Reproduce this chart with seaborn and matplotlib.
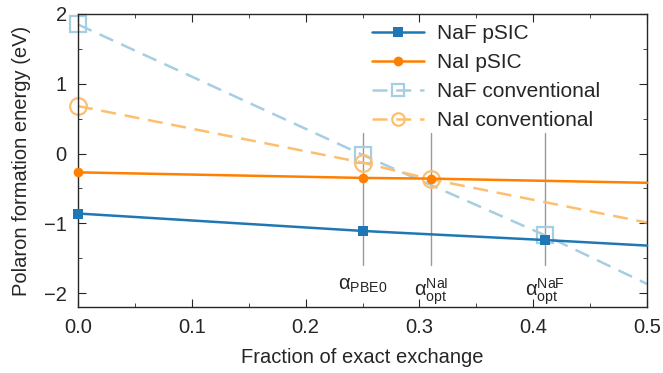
import numpy as np
import pandas as pd
import matplotlib
matplotlib.use("Agg")
import matplotlib.pyplot as plt
from matplotlib.ticker import MultipleLocator, FormatStrFormatter
import seaborn as sns

# fraction of exact exchange
alpha_naf = [0.0, 0.25, 0.41, 0.5]
alpha_nai = [0.0, 0.25, 0.31, 0.5]

naf_psic = [-0.86, -1.11, -1.24, -1.32]
nai_psic = [-0.27, -0.35, -0.36, -0.42]
naf_conv = [1.85, -0.02, -1.17, -1.87]
nai_conv = [0.68, -0.13, -0.37, -0.99]

special_alpha = [0.25, 0.31, 0.41]
special_labels = [r"$\mathrm{α}_{\mathrm{PBE0}}$", r"$\mathrm{α}_{\mathrm{opt}}^{\mathrm{NaI}}$",
                  r"$\mathrm{α}_{\mathrm{opt}}^{\mathrm{NaF}}$"]

sns.set_style("ticks")
plt.rcParams["font.family"] = ["Liberation Sans", "DejaVu Sans"]
plt.rcParams["mathtext.fontset"] = "custom"
plt.rcParams["mathtext.rm"] = "Liberation Sans"
plt.rcParams["mathtext.it"] = "Liberation Sans"

pal = sns.color_palette("Paired")
c_naf_light, c_naf, c_nai_light, c_nai = pal[0], pal[1], pal[6], pal[7]

fig = plt.figure(figsize=(6.63, 3.73), dpi=100)
ax = fig.add_axes([0.1176, 0.177, 0.976 - 0.1176, 0.9625 - 0.177])

# guide lines
for a in special_alpha:
    ax.plot([a, a], [0.3, -1.6], color="0.6", lw=1.0, zorder=1)
for a, lab in zip(special_alpha, special_labels):
    ax.text(a, -1.76, lab, ha="center", va="top", fontsize=14.5)

sns.lineplot(x=alpha_naf, y=naf_conv, ax=ax, color=c_naf_light, lw=1.8,
             linestyle=(0, (6, 3.5)), marker="s", markevery=[0, 1, 2], markersize=12,
             markerfacecolor="none", markeredgecolor=c_naf_light, markeredgewidth=1.6,
             label="NaF conventional", zorder=2, clip_on=False)
sns.lineplot(x=alpha_nai, y=nai_conv, ax=ax, color=c_nai_light, lw=1.8,
             linestyle=(0, (6, 3.5)), marker="o", markevery=[0, 1, 2], markersize=12,
             markerfacecolor="none", markeredgecolor=c_nai_light, markeredgewidth=1.6,
             label="NaI conventional", zorder=2, clip_on=False)
sns.lineplot(x=alpha_naf, y=naf_psic, ax=ax, color=c_naf, lw=1.8,
             marker="s", markevery=[0, 1, 2], markersize=7, markeredgewidth=0,
             label="NaF pSIC", zorder=3, clip_on=False)
sns.lineplot(x=alpha_nai, y=nai_psic, ax=ax, color=c_nai, lw=1.8,
             marker="o", markevery=[0, 1, 2], markersize=7, markeredgewidth=0,
             label="NaI pSIC", zorder=3, clip_on=False)

handles, labels = ax.get_legend_handles_labels()
order = [labels.index(l) for l in ["NaF pSIC", "NaI pSIC", "NaF conventional", "NaI conventional"]]
leg = ax.legend([handles[i] for i in order], [labels[i] for i in order], loc="upper right",
                bbox_to_anchor=(0.95, 1.03), frameon=False, fontsize=15, handlelength=2.5,
                labelspacing=0.48, handletextpad=0.6)
for ln in leg.get_lines()[2:]:
    ln.set_markersize(9)

ax.set_xlim(0, 0.5)
ax.set_ylim(-2.2, 2.0)
ax.xaxis.set_major_locator(MultipleLocator(0.1))
ax.xaxis.set_minor_locator(MultipleLocator(0.05))
ax.yaxis.set_major_locator(MultipleLocator(1))
ax.yaxis.set_minor_locator(MultipleLocator(0.5))
ax.xaxis.set_major_formatter(FormatStrFormatter("%.1f"))
ax.tick_params(which="both", direction="in", top=True, right=True, labelsize=14.5, pad=8)
ax.tick_params(which="major", length=6)
ax.tick_params(which="minor", length=3)
for s in ax.spines.values():
    s.set_linewidth(1.0)

ax.set_xlabel("Fraction of exact exchange", fontsize=14.5, labelpad=8)
ax.set_ylabel("Polaron formation energy (eV)", fontsize=14.5, labelpad=9)

fig.savefig("out.png", dpi=100)
